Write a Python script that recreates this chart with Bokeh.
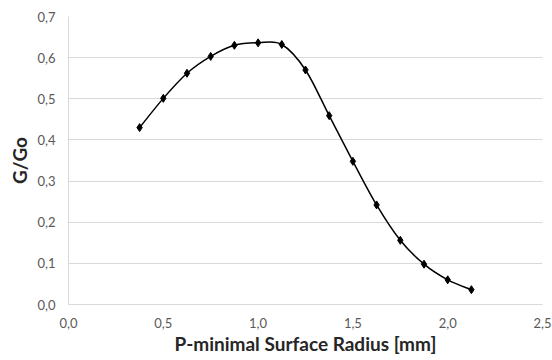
from bokeh.plotting import figure
from bokeh.models import FixedTicker, CustomJSTickFormatter, Range1d
from bokeh.embed import file_html
from bokeh.resources import INLINE

radius = [0.375, 0.5, 0.625, 0.75, 0.875, 1.0, 1.125, 1.25, 1.375, 1.5, 1.625, 1.75, 1.875, 2.0, 2.125]
g_go = [0.430, 0.501, 0.562, 0.603, 0.630, 0.636, 0.632, 0.570, 0.459, 0.348, 0.242, 0.156, 0.098, 0.060, 0.036]
x_ticks = [0.0, 0.5, 1.0, 1.5, 2.0, 2.5]
y_ticks = [0.0, 0.1, 0.2, 0.3, 0.4, 0.5, 0.6, 0.7]
x_title = "P-minimal Surface Radius [mm]"
y_title = "G/Go"

FONT = "Lato"

p = figure(width=552, height=360, output_backend="svg", toolbar_location=None,
           x_range=Range1d(0, 2.5), y_range=Range1d(0, 0.7),
           min_border_left=68, min_border_right=10, min_border_top=16, min_border_bottom=56)
p.outline_line_color = None
p.background_fill_color = "white"
p.border_fill_color = "white"

# smoothed line (Catmull-Rom style Bezier segments like a spreadsheet's smoothed line)
n = len(radius)
x0, y0, x1, y1, cx0, cy0, cx1, cy1 = [], [], [], [], [], [], [], []
for i in range(n - 1):
    im1 = max(i - 1, 0)
    ip2 = min(i + 2, n - 1)
    x0.append(radius[i]); y0.append(g_go[i])
    x1.append(radius[i + 1]); y1.append(g_go[i + 1])
    cx0.append(radius[i] + (radius[i + 1] - radius[im1]) / 6)
    cy0.append(g_go[i] + (g_go[i + 1] - g_go[im1]) / 6)
    cx1.append(radius[i + 1] - (radius[ip2] - radius[i]) / 6)
    cy1.append(g_go[i + 1] - (g_go[ip2] - g_go[i]) / 6)
p.bezier(x0=x0, y0=y0, x1=x1, y1=y1, cx0=cx0, cy0=cy0, cx1=cx1, cy1=cy1,
         line_color="black", line_width=1.5)
p.scatter(radius, g_go, marker="diamond", size=8, fill_color="black", line_color="black")

fmt = CustomJSTickFormatter(code="return tick.toFixed(1).replace('.', ',');")
p.xaxis.ticker = FixedTicker(ticks=x_ticks)
p.yaxis.ticker = FixedTicker(ticks=y_ticks)
p.xaxis.formatter = fmt
p.yaxis.formatter = fmt
p.xgrid.grid_line_color = None
p.ygrid.ticker = FixedTicker(ticks=y_ticks)
p.ygrid.grid_line_color = "#d9d9d9"
p.ygrid.grid_line_width = 1

for ax in (p.xaxis, p.yaxis):
    ax.axis_line_color = "#d9d9d9"
    ax.major_tick_line_color = None
    ax.minor_tick_line_color = None
    ax.major_tick_out = 0
    ax.major_tick_in = 0
    ax.minor_tick_out = 0
    ax.minor_tick_in = 0
    ax.major_label_text_font = FONT
    ax.major_label_text_font_size = "13px"
    ax.major_label_text_color = "#595959"
    ax.axis_label_text_font = FONT
    ax.axis_label_text_font_style = "bold"
    ax.axis_label_text_font_size = "19px"
    ax.axis_label_text_color = "#262626"

p.xaxis.axis_label = x_title
p.yaxis.axis_label = y_title
p.xaxis.major_label_standoff = 13
p.yaxis.major_label_standoff = 13
p.xaxis.axis_label_standoff = 1
p.yaxis.axis_label_standoff = 3

open("out.html", "w").write(file_html(p, INLINE))
